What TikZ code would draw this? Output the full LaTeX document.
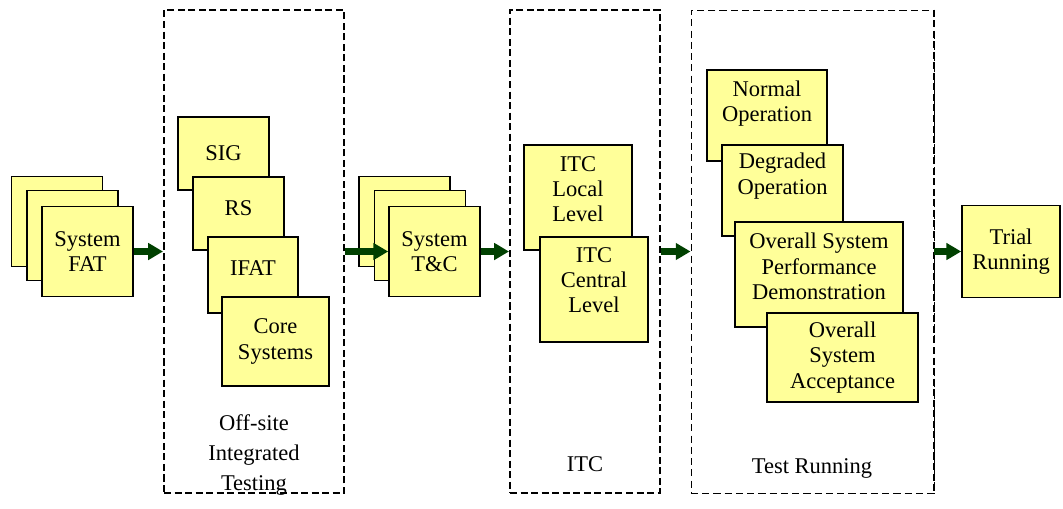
\documentclass[tikz,border=0pt]{standalone}
\usepackage{fontspec}
\setmainfont{Liberation Serif}
\usepackage{tikz}
\usetikzlibrary{arrows.meta}
\usetikzlibrary{positioning}
\definecolor{boxfill}{RGB}{255,255,153}
\definecolor{arrowgreen}{RGB}{0,64,0}
\tikzset{>=latex}
\tikzstyle{blk} = [rectangle, draw=black, line width=1.1pt, fill=boxfill, inner sep=2pt, align=center, font=\fontsize{16}{18}\selectfont]
\tikzstyle{grp} = [draw=black, line width=1.4pt, dash pattern=on 5pt off 2.5pt]
\tikzstyle{grplbl} = [draw=none, align=center, font=\fontsize{16}{21}\selectfont]
\tikzstyle{flow} = [-{Triangle[length=10.5pt, width=11.5pt]}, draw=arrowgreen, line width=4.5pt]

\begin{document}
\begin{tikzpicture}[x=0.025cm, y=-0.025cm]
\useasboundingbox (0,0) rectangle (1063,508);
% dashed groups
\node [rectangle, grp, minimum width=4.5cm, minimum height=12.075cm] (offsite) at (254, 251.5) {};
\node [rectangle, grp, minimum width=3.75cm, minimum height=12.075cm] (itc) at (585, 251.5) {};
\node [rectangle, draw=black, line width=0.6pt, dash pattern=on 5pt off 3pt, minimum width=6.075cm, minimum height=12.075cm] (test) at (812.5, 251.5) {};
\draw [grp] (test.north east) -- (test.south east);
\node [grplbl] (offsitelbl) at (254, 455) {Off-site\\Integrated\\Testing};
\node [grplbl] (itclbl) at (585, 464) {ITC};
\node [grplbl] (testlbl) at (812, 468) {Test Running};
% system FAT
\node [blk, minimum width=2.275cm, minimum height=2.25cm] (fat1) at (57, 221.5) {};
\node [blk, minimum width=2.275cm, minimum height=2.25cm] (fat2) at (72.5, 235.5) {};
\node [blk, minimum width=2.275cm, minimum height=2.25cm] (fat3) at (87.5, 251.5) {System\\FAT};
% off-site integrated testing
\node [blk, minimum width=2.275cm, minimum height=1.825cm] (sig) at (223.5, 153.5) {SIG};
\node [blk, minimum width=2.275cm, minimum height=1.825cm, text depth=7.5pt] (rs) at (238.5, 213.5) {RS};
\node [blk, minimum width=2.25cm, minimum height=1.9cm, text depth=10pt] (ifat) at (253, 275) {IFAT};
\node [blk, minimum width=2.675cm, minimum height=2.225cm] (core) at (275.5, 341.5) {Core\\Systems};
% system T&C
\node [blk, minimum width=2.275cm, minimum height=2.25cm] (tc1) at (404.5, 221.5) {};
\node [blk, minimum width=2.275cm, minimum height=2.25cm] (tc2) at (420, 235.5) {};
\node [blk, minimum width=2.275cm, minimum height=2.25cm] (tc3) at (434.5, 251.5) {System\\T\&C};
% ITC
\node [blk, minimum width=2.7cm, minimum height=2.625cm, text depth=12pt] (itclocal) at (578, 197.5) {ITC\\Local\\Level};
\node [blk, minimum width=2.7cm, minimum height=2.625cm, text depth=13.5pt] (itccentral) at (594, 289.5) {ITC\\Central\\Level};
% test running
\node [blk, minimum width=3cm, minimum height=2.275cm, text depth=20pt] (normal) at (767, 115.5) {Normal\\Operation};
\node [blk, minimum width=3.025cm, minimum height=2.275cm, text depth=24pt] (degraded) at (782.5, 190.5) {Degraded\\Operation};
\node [blk, minimum width=4.2cm, minimum height=2.625cm, text depth=11.5pt] (perf) at (819, 274.5) {Overall System\\Performance\\Demonstration};
\node [blk, minimum width=3.775cm, minimum height=2.225cm] (accept) at (842.5, 357.5) {Overall\\System\\Acceptance};
% trial running
\node [blk, minimum width=2.45cm, minimum height=2.3cm] (trial) at (1011, 251.5) {Trial\\Running};
% flow arrows
\draw [flow] (fat3.east) to (offsite.west);
\draw [flow] (offsite.east) to (tc3.west);
\draw [flow] (tc3.east) to (itc.west);
\draw [flow] (itc.east) to (test.west);
\draw [flow] (test.east) to (trial.west);
\end{tikzpicture}
\end{document}
